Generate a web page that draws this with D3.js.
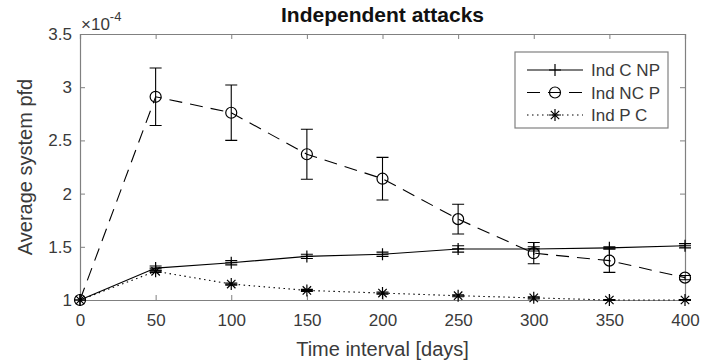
<!DOCTYPE html>
<html>
<head>
<meta charset="utf-8">
<script src="https://cdn.jsdelivr.net/npm/d3@7"></script>
<style>
  body { margin: 0; background: #fff; }
  svg { font-family: 'Liberation Sans', Arial, sans-serif; }
</style>
</head>
<body>
<div id="chart"></div>
<script>
// data (values in units of 1e-4)
const days = [0, 50, 100, 150, 200, 250, 300, 350, 400];
const indCNP = [1, 1.30, 1.35, 1.41, 1.43, 1.48, 1.48, 1.49, 1.51];
const indCNPErr = [0, 0.02, 0.02, 0.02, 0.02, 0.03, 0.02, 0.01, 0.02];
const indNCP = [1, 2.91, 2.76, 2.37, 2.14, 1.76, 1.44, 1.37, 1.21];
const indNCPErr = [0, 0.27, 0.26, 0.235, 0.2, 0.14, 0.1, 0.11, 0.02];
const indPC = [1, 1.27, 1.15, 1.09, 1.065, 1.04, 1.02, 1.0, 1.0];
const indPCErr = [0, 0.01, 0.01, 0.01, 0.01, 0.01, 0.01, 0.005, 0.005];
const xTicks = [0, 50, 100, 150, 200, 250, 300, 350, 400];
const yTicks = [1, 1.5, 2, 2.5, 3, 3.5];
const seriesNames = ['Ind C NP', 'Ind NC P', 'Ind P C'];

const W = 704, H = 362;
const m = { left: 80, right: 19, top: 34, bottom: 62 };
const axisCol = '#808080', textCol = '#3a3a3a';

const svg = d3.select('#chart').append('svg').attr('width', W).attr('height', H);

const x = d3.scaleLinear().domain([0, 400]).range([m.left, W - m.right]);
const y = d3.scaleLinear().domain([1, 3.5]).range([H - m.bottom, m.top]);

// axes (box with inward ticks)
const tl = 5;
const gx = svg.append('g').attr('transform', `translate(0,${y(1)})`)
  .call(d3.axisBottom(x).tickValues(xTicks).tickSize(-tl).tickPadding(14));
const gy = svg.append('g').attr('transform', `translate(${x(0)},0)`)
  .call(d3.axisLeft(y).tickValues(yTicks).tickSize(-tl).tickPadding(8)
    .tickFormat(d => d3.format('')(d)));
const gt = svg.append('g').attr('transform', `translate(0,${y(3.5)})`)
  .call(d3.axisTop(x).tickValues(xTicks).tickSize(-tl).tickFormat(''));
const gr = svg.append('g').attr('transform', `translate(${x(400)},0)`)
  .call(d3.axisRight(y).tickValues(yTicks).tickSize(-tl).tickFormat(''));
[gx, gy, gt, gr].forEach(g => {
  g.select('.domain').attr('stroke', axisCol).attr('stroke-width', 1.2);
  g.selectAll('.tick line').attr('stroke', axisCol);
  g.selectAll('.tick text').attr('fill', textCol).style('font-size', '17px')
    .style('font-family', "'Liberation Sans', Arial, sans-serif");
});

// exponent label
const ex = svg.append('text').attr('x', x(0) + 1).attr('y', 30).attr('fill', textCol)
  .style('font-size', '17px');
ex.append('tspan').text('\u00d710');
ex.append('tspan').attr('dy', -9).style('font-size', '13px').text('-4');

// title & axis labels
svg.append('text').attr('x', (x(0) + x(400)) / 2).attr('y', 22)
  .attr('text-anchor', 'middle').attr('font-weight', 'bold').attr('fill', '#111')
  .style('font-size', '21px').text('Independent attacks');
svg.append('text').attr('x', (x(0) + x(400)) / 2).attr('y', 356)
  .attr('text-anchor', 'middle').attr('fill', textCol)
  .style('font-size', '20px').text('Time interval [days]');
svg.append('text').attr('transform', `translate(32,${(y(1) + y(3.5)) / 2}) rotate(-90)`)
  .attr('text-anchor', 'middle').attr('fill', textCol)
  .style('font-size', '20px').text('Average system pfd');

const series = [
  { vals: indCNP, err: indCNPErr, dash: null, marker: 'plus' },
  { vals: indNCP, err: indNCPErr, dash: '13,8', marker: 'circle' },
  { vals: indPC, err: indPCErr, dash: '1.5,3.5', marker: 'star' }
];

function drawMarker(g, type, cx, cy) {
  if (type === 'plus') {
    g.append('path').attr('d', `M${cx - 6},${cy}H${cx + 6}M${cx},${cy - 6}V${cy + 6}`)
      .attr('stroke', '#000').attr('stroke-width', 1.2);
  } else if (type === 'circle') {
    g.append('circle').attr('cx', cx).attr('cy', cy).attr('r', 5.5)
      .attr('fill', 'none').attr('stroke', '#000').attr('stroke-width', 1.2);
  } else {
    const r = 6, d = r * 0.7;
    g.append('path').attr('d',
      `M${cx - r},${cy}H${cx + r}M${cx},${cy - r}V${cy + r}` +
      `M${cx - d},${cy - d}L${cx + d},${cy + d}M${cx - d},${cy + d}L${cx + d},${cy - d}`)
      .attr('stroke', '#000').attr('stroke-width', 1.2);
  }
}

const line = d3.line().x((d, i) => x(days[i])).y(d => y(d));
const plot = svg.append('g');
series.forEach(s => {
  plot.append('path').attr('d', line(s.vals)).attr('fill', 'none')
    .attr('stroke', '#000').attr('stroke-width', 1.1)
    .attr('stroke-dasharray', s.dash);
  s.vals.forEach((v, i) => {
    const e = s.err[i];
    if (e > 0) {
      const cx = x(days[i]), cw = 6;
      plot.append('path').attr('d',
        `M${cx},${y(v - e)}V${y(v + e)}M${cx - cw},${y(v - e)}H${cx + cw}M${cx - cw},${y(v + e)}H${cx + cw}`)
        .attr('stroke', '#000').attr('stroke-width', 1.1).attr('fill', 'none');
    }
    drawMarker(plot, s.marker, x(days[i]), y(v));
  });
});

// legend
const lg = svg.append('g').attr('transform', 'translate(515,52)');
lg.append('rect').attr('width', 153).attr('height', 76).attr('fill', '#fff')
  .attr('stroke', axisCol).attr('stroke-width', 1.2);
seriesNames.forEach((name, i) => {
  const yy = 18 + i * 22.5;
  lg.append('line').attr('x1', 12).attr('x2', 68).attr('y1', yy).attr('y2', yy)
    .attr('stroke', '#000').attr('stroke-width', 1.1)
    .attr('stroke-dasharray', series[i].dash);
  drawMarker(lg, series[i].marker, 40, yy);
  lg.append('text').attr('x', 76).attr('y', yy + 6).attr('fill', textCol)
    .style('font-size', '17px').text(name);
});
</script>
</body>
</html>
